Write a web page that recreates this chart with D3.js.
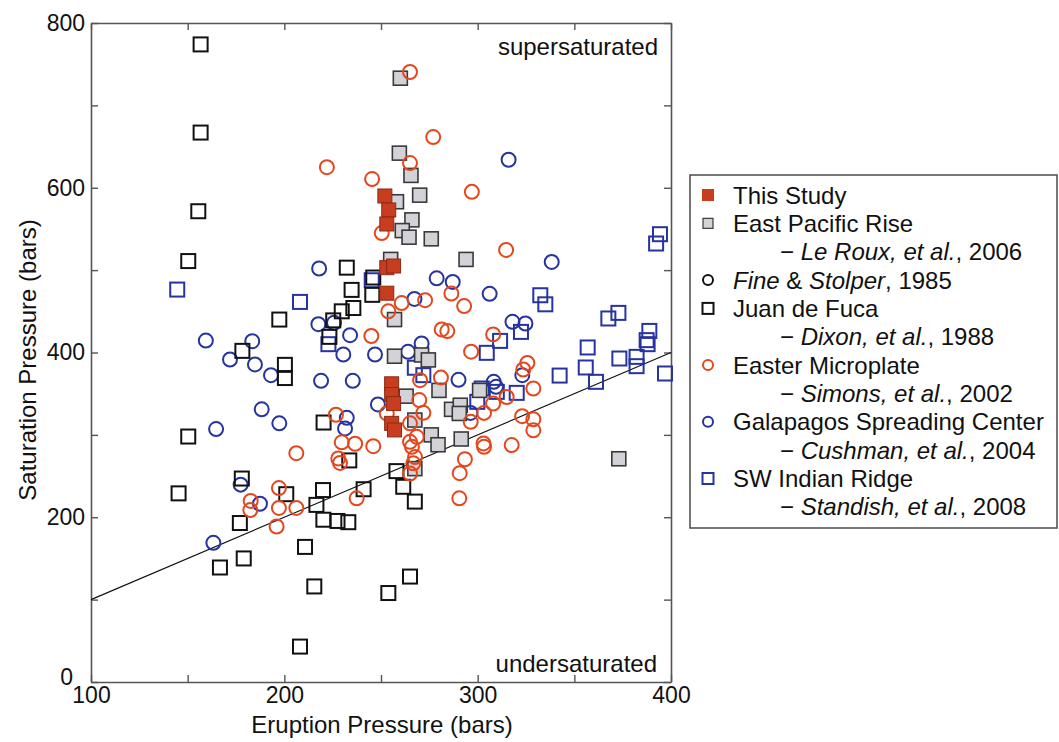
<!DOCTYPE html>
<html><head><meta charset="utf-8">
<script src="https://cdn.jsdelivr.net/npm/d3@7"></script>
<style>
body{margin:0;background:#fff;}
svg text{font-family:"Liberation Sans",Arial,Helvetica,sans-serif;fill:#111;}
</style>
</head><body>
<svg id="c" width="1059" height="742"></svg>
<script>
// ---- data (Eruption Pressure, Saturation Pressure) in bars ----
const xTickValues = [100,150,200,250,300,350,400];
const yTickValues = [0,100,200,300,400,500,600,700,800];
const refLine = [[100,100],[400,400]];

const thisStudy = [[252,590],[254,573],[253,556],[253,503],[256.5,505],[253,472],[255.5,362],[255.5,349],[256.5,338],[255.5,314],[257,306]];

const eastPacificRise = [[260,733],[259.5,642],[265.5,615],[270,591],[258,583],[266,561],[261,548],[264.5,540],[276,538],[294,513],[255,513],[257,440],[257,395.5],[271,397],[274.5,391],[263,347],[280,354],[286.5,331],[291,336],[290.5,326],[267.5,318],[276,300],[279.5,288],[291.5,295],[373,271],[267.5,259],[301,354]];

const juanDeFuca = [[156.7,774],[156.7,667],[155.5,571.5],[150.3,511],[232.3,503],[246,491],[234.8,476],[245.5,470],[235.7,454],[229.7,450],[197.4,440],[225.3,439],[223.3,419],[178.3,402],[200.3,385],[200.3,369],[220.3,315],[150.3,298],[233.6,269],[258,256],[261.5,237],[267.5,219],[178,247],[145.3,229],[201,228],[220,233],[216.6,215],[177,193],[220.2,197],[227.5,195.5],[233.1,194],[241,234],[210.7,164],[179,150],[166.7,139],[215.5,116],[208.1,43],[265,128],[253.8,108]];

const easterMicroplate = [[265,740.5],[277,661.5],[265,630],[222,625],[245.4,610.5],[297,595],[250.4,545],[314.7,524.5],[245,420],[253.8,450],[260.7,460],[272.8,463.5],[286.4,471.6],[293,456.4],[281.4,428],[284.3,426],[308,422],[296.6,401],[325.7,387.4],[323.6,379.4],[328.8,356.3],[270.2,366.4],[281,369.5],[269.8,342.2],[271.9,326.8],[253,326],[265,314],[268.5,297.6],[265,291.6],[266,285.5],[267.6,273],[266.7,265.5],[265,253],[315,346],[308,338],[303.3,326.7],[296.4,315.8],[323,322.7],[328.8,319],[328.8,305.5],[303,289.6],[303.3,285.5],[317.6,287.6],[293.4,270.4],[290.7,253.5],[290.5,223],[226.7,324.4],[229.7,291],[236.6,289.2],[246,286.3],[206.2,277.8],[227.9,271.4],[228.8,266],[197.2,235.4],[237.4,223],[182.6,219.8],[182.4,208.7],[197.2,211.3],[206.2,211.3],[196,188.8]];

const galapagos = [[316,634],[338.3,510],[218,502],[278.8,490],[287.1,485.7],[306.2,471.2],[267.3,465],[217.6,434.4],[225.7,436],[234,421],[318,437.2],[324.7,435.2],[159.4,414.5],[183.4,413.7],[171.9,391.5],[184.8,385.5],[193.1,372.5],[230.5,397.6],[246.9,397.6],[264,400.8],[271,411],[219,365.6],[235.4,365.6],[290.1,366.8],[308.3,364.4],[309.5,358.3],[323.1,372.5],[248.4,337],[188.3,331],[197.4,314],[164.7,307],[232.3,320.7],[231.4,307.8],[296.3,326.6],[187.4,216.4],[177.4,239.6],[163.3,169]];

const swIndianRidge = [[144.6,476.4],[208.1,461.4],[245.2,487.7],[222.8,410.1],[394.3,543.6],[392.3,532.3],[332.4,469.5],[335,458.5],[367.6,441.3],[372.8,448.1],[322.4,425],[311.6,414.1],[304.7,399.6],[388.8,426.2],[387.4,415],[387.9,410.1],[356.9,406.1],[373.3,392.7],[382.2,394.7],[382.2,383.4],[396.9,374.5],[355.9,381.8],[361.2,364.4],[342.4,372],[267.5,381.5],[271.9,372.5],[302.1,356.3],[309.9,352.2],[320.2,351],[299.8,340.1]];

const legendRows = [
  {m:"red",   parts:[["This Study",0]]},
  {m:"gray",  parts:[["East Pacific Rise",0]]},
  {m:null,    parts:[["\u2212 ",0],["Le Roux, et al.",1],[", 2006",0]]},
  {m:"kcirc", parts:[["Fine",1],[" & ",0],["Stolper",1],[", 1985",0]]},
  {m:"ksq",   parts:[["Juan de Fuca",0]]},
  {m:null,    parts:[["\u2212 ",0],["Dixon, et al.",1],[", 1988",0]]},
  {m:"ocirc", parts:[["Easter Microplate",0]]},
  {m:null,    parts:[["\u2212 ",0],["Simons, et al.",1],[", 2002",0]]},
  {m:"bcirc", parts:[["Galapagos Spreading Center",0]]},
  {m:null,    parts:[["\u2212 ",0],["Cushman, et al.",1],[", 2004",0]]},
  {m:"bsq",   parts:[["SW Indian Ridge",0]]},
  {m:null,    parts:[["\u2212 ",0],["Standish, et al.",1],[", 2008",0]]}
];

// ---- drawing ----
const svg = d3.select("#c");
const x = d3.scaleLinear().domain([100,400]).range([91,671]);
const y = d3.scaleLinear().domain([0,800]).range([682,23]);

const COL = {red:"#c63d1f", redS:"#8e2a14", gray:"#d2d2d8", grayS:"#3a3a3a", black:"#111", orange:"#e5471d", blue:"#2633a0"};

function styleAxis(g){
  g.attr("font-family",null).attr("font-size",null);
  g.select(".domain").attr("stroke","#555").attr("stroke-width",1.6);
  g.selectAll(".tick line").attr("stroke","#555").attr("stroke-width",1.4);
  g.selectAll(".tick text").attr("font-size",23).attr("fill","#111");
}
svg.append("g").attr("transform","translate(0,682)")
  .call(d3.axisBottom(x).tickValues(xTickValues).tickSizeInner(-7).tickSizeOuter(0).tickPadding(5)
    .tickFormat(d => d%100===0 ? d : "")).call(styleAxis);
svg.append("g").attr("transform","translate(0,23)")
  .call(d3.axisTop(x).tickValues(xTickValues).tickSizeInner(-7).tickSizeOuter(0).tickFormat("")).call(styleAxis);
const gl = svg.append("g").attr("transform","translate(91,0)")
  .call(d3.axisLeft(y).tickValues(yTickValues).tickSizeInner(-7).tickSizeOuter(0).tickPadding(6)
    .tickFormat(d => d%200===0 ? d : "")).call(styleAxis);
gl.selectAll(".tick text").filter(d => d===0).attr("dx",-12).attr("dy","0.1em");
svg.append("g").attr("transform","translate(671,0)")
  .call(d3.axisRight(y).tickValues(yTickValues).tickSizeInner(-7).tickSizeOuter(0).tickFormat("")).call(styleAxis);

// 1:1 line
svg.append("path").datum(refLine)
  .attr("d", d3.line().x(d=>x(d[0])).y(d=>y(d[1])))
  .attr("stroke","#111").attr("stroke-width",1.1).attr("fill","none");

const S = 14, R = 7;
function squares(data, fill, stroke, sw){
  svg.append("g").selectAll("rect").data(data).join("rect")
    .attr("x", d=>x(d[0])-S/2).attr("y", d=>y(d[1])-S/2)
    .attr("width",S).attr("height",S)
    .attr("fill",fill).attr("stroke",stroke).attr("stroke-width",sw);
}
function circles(data, stroke){
  svg.append("g").selectAll("circle").data(data).join("circle")
    .attr("cx", d=>x(d[0])).attr("cy", d=>y(d[1])).attr("r",R)
    .attr("fill","none").attr("stroke",stroke).attr("stroke-width",2);
}
squares(swIndianRidge, "none", COL.blue, 2);
circles(galapagos, COL.blue);
squares(juanDeFuca, "none", COL.black, 2);
squares(eastPacificRise, COL.gray, COL.grayS, 1.6);
circles(easterMicroplate, COL.orange);
squares(thisStudy, COL.red, COL.redS, 1);

// region labels
svg.append("text").attr("x",658).attr("y",55).attr("text-anchor","end").attr("font-size",24).text("supersaturated");
svg.append("text").attr("x",657).attr("y",672).attr("text-anchor","end").attr("font-size",24).text("undersaturated");

// axis titles
svg.append("text").attr("x",382).attr("y",733).attr("text-anchor","middle").attr("font-size",24).text("Eruption Pressure (bars)");
svg.append("text").attr("transform","translate(36,360) rotate(-90)").attr("text-anchor","middle").attr("font-size",24).text("Saturation Pressure (bars)");

// legend
const lg = svg.append("g");
lg.append("rect").attr("x",690).attr("y",175).attr("width",367).attr("height",353)
  .attr("fill","#fff").attr("stroke","#555").attr("stroke-width",1.6);
legendRows.forEach((r,i)=>{
  const cy = 195 + i*28.35, mx = 708;
  if(r.m==="red") lg.append("rect").attr("x",mx-6).attr("y",cy-6).attr("width",12).attr("height",12).attr("fill",COL.red);
  if(r.m==="gray") lg.append("rect").attr("x",mx-5).attr("y",cy-5).attr("width",10).attr("height",10).attr("fill",COL.gray).attr("stroke",COL.grayS).attr("stroke-width",1.2);
  if(r.m==="kcirc") lg.append("circle").attr("cx",mx).attr("cy",cy).attr("r",5).attr("fill","none").attr("stroke",COL.black).attr("stroke-width",2);
  if(r.m==="ocirc") lg.append("circle").attr("cx",mx).attr("cy",cy).attr("r",5).attr("fill","none").attr("stroke",COL.orange).attr("stroke-width",2);
  if(r.m==="bcirc") lg.append("circle").attr("cx",mx).attr("cy",cy).attr("r",5).attr("fill","none").attr("stroke",COL.blue).attr("stroke-width",2);
  if(r.m==="ksq") lg.append("rect").attr("x",mx-5.5).attr("y",cy-5.5).attr("width",11).attr("height",11).attr("fill","none").attr("stroke",COL.black).attr("stroke-width",2);
  if(r.m==="bsq") lg.append("rect").attr("x",mx-5.5).attr("y",cy-5.5).attr("width",11).attr("height",11).attr("fill","none").attr("stroke",COL.blue).attr("stroke-width",2);
  const t = lg.append("text").attr("x", r.m===null ? 780 : 733).attr("y", cy+8.5).attr("font-size",24);
  r.parts.forEach(p => t.append("tspan").attr("font-style", p[1] ? "italic" : "normal").text(p[0]));
});
</script>
</body></html>
